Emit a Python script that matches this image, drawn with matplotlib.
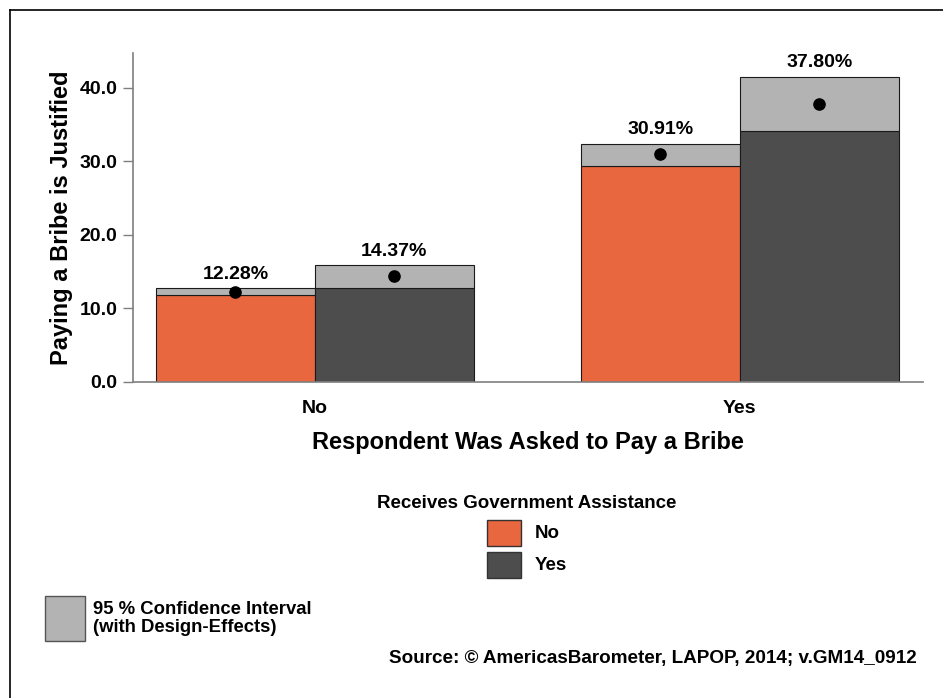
import matplotlib.pyplot as plt
import numpy as np
from matplotlib.patches import Rectangle
from matplotlib.lines import Line2D

plt.rcParams['font.family'] = ['Liberation Sans', 'DejaVu Sans']
plt.rcParams['font.weight'] = 'bold'

# data
groups = ['No', 'Yes']                 # respondent was asked to pay a bribe
assist = ['No', 'Yes']                 # receives government assistance
means = np.array([[12.28, 14.37], [30.91, 37.80]])
ci_low = np.array([[11.8, 12.8], [29.3, 34.1]])
ci_high = np.array([[12.8, 15.9], [32.4, 41.5]])
yticks = [0, 10, 20, 30, 40]

colors = ['#E8673F', '#4D4D4D']
ci_color = '#B3B3B3'
axis_gray = '#7F7F7F'

W, H = 943, 698
fig = plt.figure(figsize=(W / 100, H / 100), dpi=100)

# main axes
ax = fig.add_axes([133 / W, 1 - 382 / H, (923 - 133) / W, (382 - 53) / H])
bw = 0.374
x = np.arange(len(groups))
for j in range(len(assist)):
    xs = x + (j - 0.5) * bw
    ax.bar(xs, ci_low[:, j], width=bw, color=colors[j], edgecolor='#1a1a1a', linewidth=0.8, zorder=2)
    ax.bar(xs, ci_high[:, j] - ci_low[:, j], bottom=ci_low[:, j], width=bw, color=ci_color,
           edgecolor='#1a1a1a', linewidth=0.8, zorder=2)
    ax.scatter(xs, means[:, j], s=65, color='black', zorder=4)
    for xi, top, m in zip(xs, ci_high[:, j], means[:, j]):
        ax.text(xi, top + 0.7, f'{m:.2f}%', ha='center', va='bottom', fontsize=14, fontweight='bold')

ax.set_xlim(-0.428, 1.431)
ax.set_ylim(0, 44.7)
ax.set_xticks(x)
ax.set_xticklabels(groups, fontsize=14, fontweight='bold')
ax.tick_params(axis='x', length=0, pad=13)
ax.set_yticks(yticks)
ax.set_yticklabels([f'{t:.1f}' for t in yticks], fontsize=14, fontweight='bold')
ax.tick_params(axis='y', length=7.2, color=axis_gray, width=1, pad=4)
for s in ['top', 'right']:
    ax.spines[s].set_visible(False)
for s in ['left', 'bottom']:
    ax.spines[s].set_color(axis_gray)
    ax.spines[s].set_linewidth(1.2)
ax.set_xlabel('Respondent Was Asked to Pay a Bribe', fontsize=17, fontweight='bold', labelpad=10)
ax.set_ylabel('Paying a Bribe is Justified', fontsize=17, fontweight='bold', labelpad=5)

# overlay in pixel coordinates for frame and legends
ov = fig.add_axes([0, 0, 1, 1], zorder=-1)
ov.set_xlim(0, W)
ov.set_ylim(H, 0)
ov.axis('off')
ov.add_line(Line2D([10, 10], [10, H + 5], color='black', linewidth=1.2))
ov.add_line(Line2D([10, W + 5], [10, 10], color='black', linewidth=1.2))

ov.text(527, 504, 'Receives Government Assistance', ha='center', va='center', fontsize=13.5, fontweight='bold')
for k, (lab, yc) in enumerate(zip(assist, [533, 565])):
    ov.add_patch(Rectangle((487, yc - 13), 34, 26, facecolor=colors[k], edgecolor='#333333', linewidth=1))
    ov.text(535, yc, lab, ha='left', va='center', fontsize=13.5, fontweight='bold')

ov.add_patch(Rectangle((45, 596), 40, 45, facecolor=ci_color, edgecolor='#555555', linewidth=1))
ov.text(93, 609, '95 % Confidence Interval', ha='left', va='center', fontsize=13.3, fontweight='bold')
ov.text(93, 628, '(with Design-Effects)', ha='left', va='center', fontsize=13.3, fontweight='bold')

ov.text(917, 658, 'Source: \u00a9 AmericasBarometer, LAPOP, 2014; v.GM14_0912', ha='right', va='center',
        fontsize=13.6, fontweight='bold')

fig.savefig('out.png', dpi=100)
